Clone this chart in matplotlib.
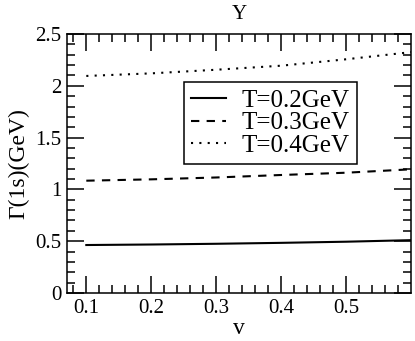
import numpy as np
import matplotlib
matplotlib.use('Agg')
import matplotlib.pyplot as plt
from matplotlib.ticker import MultipleLocator, FormatStrFormatter

v = [0.1, 0.2, 0.3, 0.4, 0.5, 0.6]
gamma_t02 = [0.463, 0.468, 0.475, 0.484, 0.495, 0.51]
gamma_t03 = [1.084, 1.097, 1.115, 1.139, 1.161, 1.194]
gamma_t04 = [2.095, 2.12, 2.155, 2.194, 2.256, 2.325]
labels = ['T=0.2GeV', 'T=0.3GeV', 'T=0.4GeV']

plt.rcParams['font.family'] = ['Liberation Serif', 'DejaVu Serif']

fig = plt.figure(figsize=(4.15, 3.41), dpi=100)
ax = fig.add_axes([0.161, 0.1408, 0.829, 0.7595])

ax.plot(v, gamma_t02, color='k', lw=1.5, label=labels[0])
ax.plot(v, gamma_t03, color='k', lw=1.5, ls=(0, (4, 3.5)), label=labels[1])
ax.plot(v, gamma_t04, color='k', lw=1.5, ls=(0, (1, 3)), label=labels[2])

ax.set_xlim(0.07, 0.5995)
ax.set_ylim(0, 2.5)
ax.xaxis.set_major_locator(MultipleLocator(0.1))
ax.xaxis.set_minor_locator(MultipleLocator(0.02))
ax.yaxis.set_major_locator(MultipleLocator(0.5))
ax.yaxis.set_minor_locator(MultipleLocator(0.1))
ax.yaxis.set_major_formatter(FormatStrFormatter('%g'))
ax.xaxis.set_major_formatter(FormatStrFormatter('%g'))
ax.tick_params(which='both', direction='in', top=True, right=True, labelsize=15, width=1.1)
ax.tick_params(which='major', length=12, pad=4)
ax.tick_params(which='minor', length=6)
for s in ax.spines.values():
    s.set_linewidth(1.1)

ax.set_title('Υ', fontsize=15, pad=11)
ax.set_xlabel('v', fontsize=17, labelpad=0)
ax.set_ylabel('Γ(1s)(GeV)', fontsize=17, labelpad=4)

leg = ax.legend(loc='upper left', bbox_to_anchor=(0.34, 0.815), borderaxespad=0,
                fancybox=False, edgecolor='k', framealpha=1, fontsize=18,
                handlelength=1.4, handletextpad=0.6, labelspacing=0.0, borderpad=0.3)
leg.get_frame().set_linewidth(1.1)

fig.savefig('out.png', dpi=100)
